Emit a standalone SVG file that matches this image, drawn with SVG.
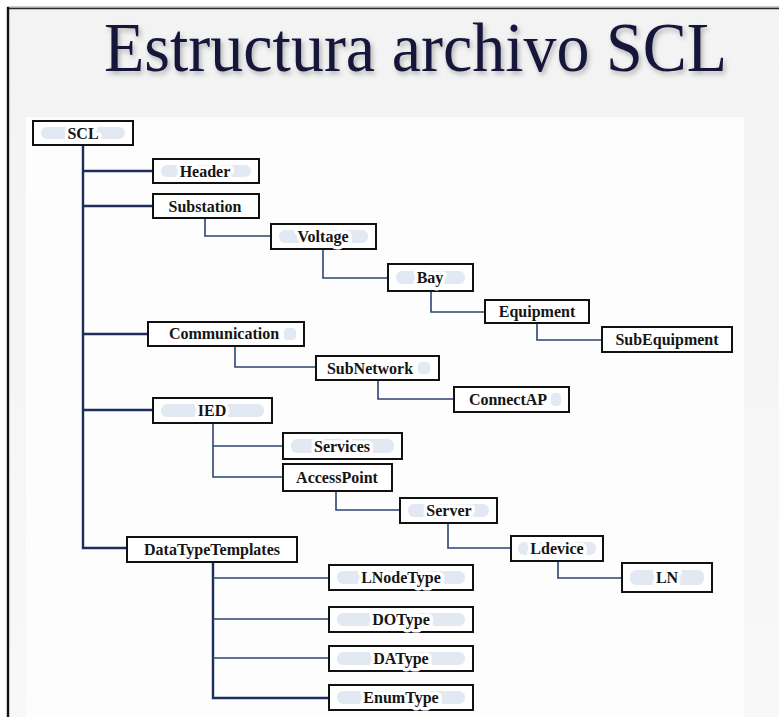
<svg xmlns="http://www.w3.org/2000/svg" width="779" height="717" viewBox="0 0 779 717">
  <defs>
    <filter id="titleShadow" filterUnits="userSpaceOnUse" x="80" y="0" width="680" height="100">
      <feDropShadow dx="2" dy="3" stdDeviation="2.5" flood-color="#000000" flood-opacity="0.28"/>
    </filter>
    <linearGradient id="slideBg" x1="0" y1="0" x2="0" y2="1">
      <stop offset="0" stop-color="#f3f3f3"/>
      <stop offset="1" stop-color="#f8f8f8"/>
    </linearGradient>
  </defs>
  <style>
    .box { fill: #ffffff; stroke: #111111; stroke-width: 2; }
    .pill { fill: #e3e9f2; }
    .lbl { font-family: "Liberation Serif", "Times New Roman", serif; font-weight: bold; font-size: 16px; fill: #151515; text-anchor: middle; stroke: #ffffff; stroke-width: 7px; stroke-linejoin: round; paint-order: stroke; }
    .plain { stroke: none; }
    .link { fill: none; stroke: #2a4470; stroke-width: 1.6; }
    .trunk { fill: none; stroke: #1c2d5e; stroke-width: 2.4; }
  </style>

  <!-- slide background and frame -->
  <rect x="0" y="0" width="779" height="717" fill="#ffffff"/>
  <rect x="7" y="8" width="772" height="709" fill="url(#slideBg)"/>
  <line x1="7" y1="7" x2="779" y2="7" stroke="#9a9a9a" stroke-width="1"/>
  <line x1="7" y1="8.5" x2="779" y2="8.5" stroke="#2a2a2a" stroke-width="1.6"/>
  <line x1="8" y1="7" x2="8" y2="717" stroke="#111111" stroke-width="2.4"/>
  <rect x="26" y="117" width="718" height="600" fill="#fdfdfd"/>

  <!-- title -->
  <text x="104" y="71" textLength="623" lengthAdjust="spacingAndGlyphs" font-family="'Liberation Serif', 'Times New Roman', serif" font-size="70" fill="#14173a" filter="url(#titleShadow)">Estructura archivo SCL</text>

  <!-- connectors -->
  <g id="connectors">
    <path class="trunk" d="M83 145 V548 H127"/>
    <path class="trunk" d="M83 171 H153"/>
    <path class="trunk" d="M83 206 H153"/>
    <path class="trunk" d="M83 334 H148"/>
    <path class="trunk" d="M83 410 H153"/>
    <path class="link" d="M205 218 V236 H271"/>
    <path class="link" d="M323 249 V278 H388"/>
    <path class="link" d="M431 291 V312 H485"/>
    <path class="link" d="M537 323 V340 H602"/>
    <path class="link" d="M235 346 V367 H316"/>
    <path class="link" d="M378 380 V399 H454"/>
    <path class="link" d="M213 423 V477 H283"/>
    <path class="link" d="M213 446 H283"/>
    <path class="link" d="M336 491 V510 H400"/>
    <path class="link" d="M448 523 V548 H511"/>
    <path class="link" d="M558 561 V578 H622"/>
    <path class="trunk" d="M213 562 V698 H329"/>
    <path class="link" d="M213 578 H329"/>
    <path class="link" d="M213 619 H329"/>
    <path class="link" d="M213 658 H329"/>
  </g>

  <!-- nodes -->
  <g id="node-scl">
    <rect class="box" x="33" y="121" width="100" height="24"/>
    <rect class="pill" x="41" y="127" width="84" height="12" rx="6"/>
    <text class="lbl" x="83" y="139">SCL</text>
  </g>
  <g id="node-header">
    <rect class="box" x="153" y="159" width="106" height="24"/>
    <rect class="pill" x="161" y="165" width="90" height="12" rx="6"/>
    <text class="lbl" x="205" y="177">Header</text>
  </g>
  <g id="node-substation">
    <rect class="box" x="153" y="194" width="106" height="24"/>
    <text class="lbl plain" x="205" y="212">Substation</text>
  </g>
  <g id="node-voltage">
    <rect class="box" x="271" y="224" width="105" height="25"/>
    <rect class="pill" x="279" y="230" width="89" height="13" rx="6"/>
    <text class="lbl" x="323" y="242">Voltage</text>
  </g>
  <g id="node-bay">
    <rect class="box" x="388" y="264" width="85" height="27"/>
    <rect class="pill" x="396" y="271" width="69" height="13" rx="6"/>
    <text class="lbl" x="430" y="283">Bay</text>
  </g>
  <g id="node-equipment">
    <rect class="box" x="485" y="300" width="104" height="23"/>
    <text class="lbl plain" x="537" y="317">Equipment</text>
  </g>
  <g id="node-subequipment">
    <rect class="box" x="602" y="327" width="130" height="25"/>
    <text class="lbl plain" x="667" y="345">SubEquipment</text>
  </g>
  <g id="node-communication">
    <rect class="box" x="148" y="322" width="156" height="24"/>
    <rect class="pill" x="284" y="328" width="12" height="12" rx="4"/>
    <text class="lbl plain" x="224" y="339">Communication</text>
  </g>
  <g id="node-subnetwork">
    <rect class="box" x="316" y="356" width="123" height="24"/>
    <rect class="pill" x="418" y="362" width="12" height="12" rx="4"/>
    <text class="lbl plain" x="370" y="374">SubNetwork</text>
  </g>
  <g id="node-connectap">
    <rect class="box" x="454" y="387" width="115" height="25"/>
    <rect class="pill" x="551" y="393" width="10" height="13" rx="4"/>
    <text class="lbl plain" x="508" y="405">ConnectAP</text>
  </g>
  <g id="node-ied">
    <rect class="box" x="153" y="398" width="119" height="25"/>
    <rect class="pill" x="161" y="404" width="103" height="13" rx="6"/>
    <text class="lbl" x="212" y="416">IED</text>
  </g>
  <g id="node-services">
    <rect class="box" x="283" y="433" width="119" height="26"/>
    <rect class="pill" x="291" y="439" width="103" height="14" rx="6"/>
    <text class="lbl" x="342" y="452">Services</text>
  </g>
  <g id="node-accesspoint">
    <rect class="box" x="283" y="464" width="109" height="27"/>
    <text class="lbl plain" x="337" y="483">AccessPoint</text>
  </g>
  <g id="node-server">
    <rect class="box" x="400" y="498" width="97" height="25"/>
    <rect class="pill" x="408" y="504" width="81" height="13" rx="6"/>
    <text class="lbl" x="449" y="516">Server</text>
  </g>
  <g id="node-ldevice">
    <rect class="box" x="511" y="536" width="92" height="25"/>
    <rect class="pill" x="518" y="542" width="78" height="13" rx="6"/>
    <text class="lbl" x="557" y="554">Ldevice</text>
  </g>
  <g id="node-ln">
    <rect class="box" x="622" y="563" width="90" height="29"/>
    <rect class="pill" x="630" y="570" width="74" height="15" rx="6"/>
    <text class="lbl" x="667" y="583">LN</text>
  </g>
  <g id="node-datatypetemplates">
    <rect class="box" x="127" y="537" width="170" height="25"/>
    <text class="lbl plain" x="212" y="555">DataTypeTemplates</text>
  </g>
  <g id="node-lnodetype">
    <rect class="box" x="329" y="565" width="144" height="25"/>
    <rect class="pill" x="337" y="571" width="128" height="13" rx="6"/>
    <text class="lbl" x="401" y="583">LNodeType</text>
  </g>
  <g id="node-dotype">
    <rect class="box" x="329" y="607" width="144" height="25"/>
    <rect class="pill" x="337" y="613" width="128" height="13" rx="6"/>
    <text class="lbl" x="401" y="625">DOType</text>
  </g>
  <g id="node-datype">
    <rect class="box" x="329" y="646" width="144" height="25"/>
    <rect class="pill" x="337" y="652" width="128" height="13" rx="6"/>
    <text class="lbl" x="401" y="664">DAType</text>
  </g>
  <g id="node-enumtype">
    <rect class="box" x="329" y="685" width="144" height="25"/>
    <rect class="pill" x="337" y="691" width="128" height="13" rx="6"/>
    <text class="lbl" x="401" y="703">EnumType</text>
  </g>
</svg>
